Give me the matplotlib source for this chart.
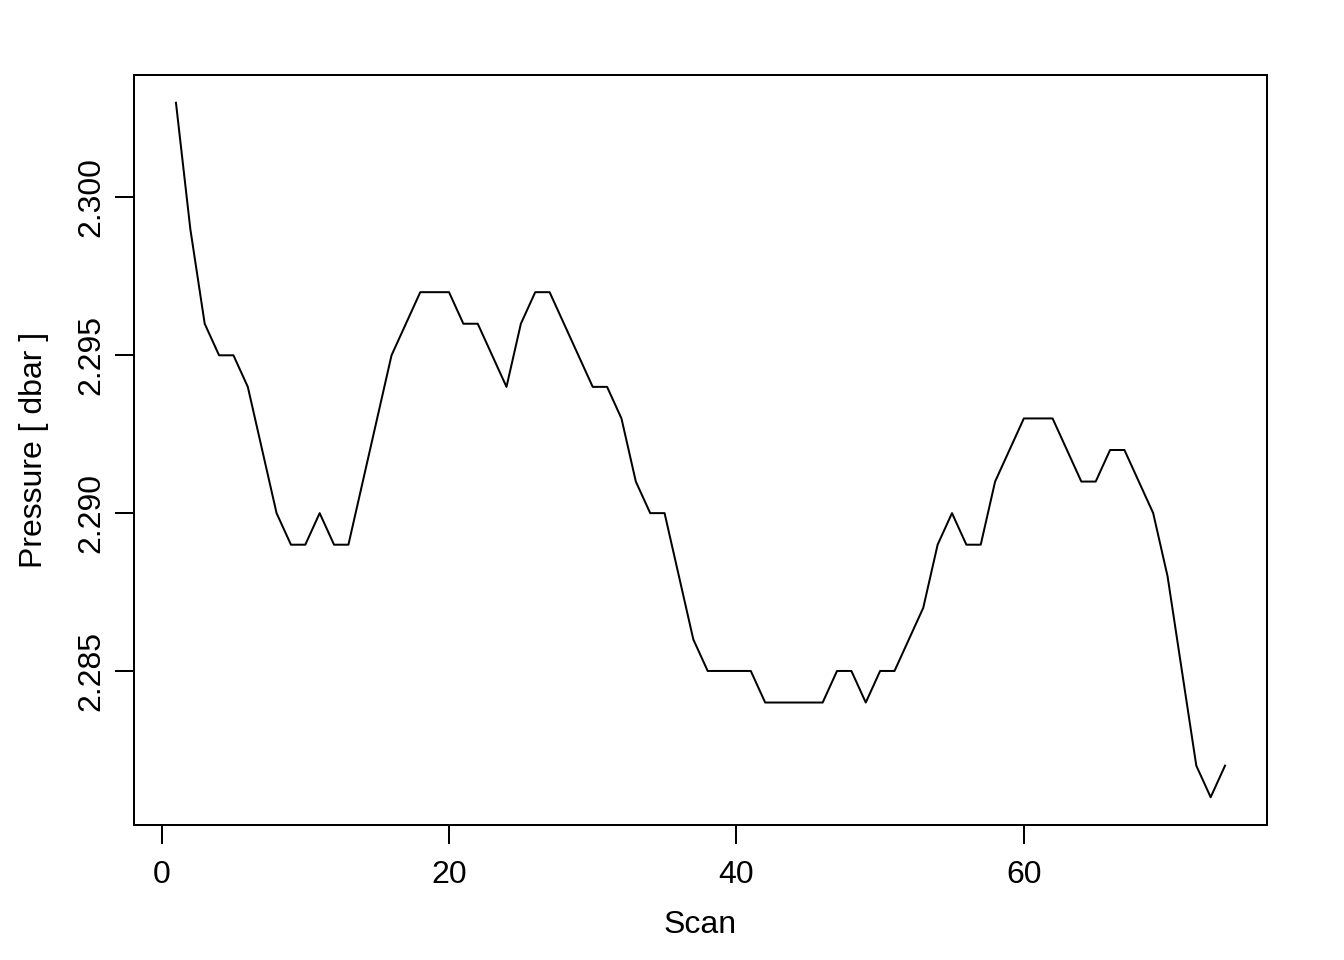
import numpy as np
import matplotlib
matplotlib.use("Agg")
import matplotlib.pyplot as plt

plt.rcParams['font.family'] = ['Liberation Sans', 'DejaVu Sans']

# pressure per scan
scan = np.arange(1, 75)
pressure = [
    2.303, 2.299, 2.296, 2.295, 2.295, 2.294, 2.292, 2.290, 2.289, 2.289,
    2.290, 2.289, 2.289, 2.291, 2.293, 2.295, 2.296, 2.297, 2.297, 2.297,
    2.296, 2.296, 2.295, 2.294, 2.296, 2.297, 2.297, 2.296, 2.295, 2.294,
    2.294, 2.293, 2.291, 2.290, 2.290, 2.288, 2.286, 2.285, 2.285, 2.285,
    2.285, 2.284, 2.284, 2.284, 2.284, 2.284, 2.285, 2.285, 2.284, 2.285,
    2.285, 2.286, 2.287, 2.289, 2.290, 2.289, 2.289, 2.291, 2.292, 2.293,
    2.293, 2.293, 2.292, 2.291, 2.291, 2.292, 2.292, 2.291, 2.290, 2.288,
    2.285, 2.282, 2.281, 2.282,
]
xticks = [0, 20, 40, 60]
yticks = [2.285, 2.290, 2.295, 2.300]

fig = plt.figure(figsize=(7, 5), dpi=192)
ax = fig.add_axes([134 / 1344, 1 - 825 / 960, (1267 - 134) / 1344, (825 - 75) / 960])
ax.plot(scan, pressure, color='black', linewidth=0.75)

# R-style 4% padding
xr = scan.max() - scan.min()
ax.set_xlim(scan.min() - 0.04 * xr, scan.max() + 0.04 * xr)
yr = max(pressure) - min(pressure)
ax.set_ylim(min(pressure) - 0.04 * yr, max(pressure) + 0.04 * yr)

ax.set_xticks(xticks)
ax.set_xticklabels([str(v) for v in xticks])
ax.set_yticks(yticks)
ax.set_yticklabels(["%.3f" % v for v in yticks], rotation=90, va='center')
ax.tick_params(axis='both', direction='out', length=7, width=0.75,
               labelsize=12, color='black')
ax.tick_params(axis='x', pad=6.3)
ax.tick_params(axis='y', pad=3.5)
for s in ax.spines.values():
    s.set_linewidth(0.75)

ax.set_xlabel("Scan", fontsize=12, labelpad=7.3)
ax.set_ylabel("Pressure [ dbar ]", fontsize=12, labelpad=10)

fig.savefig("out.png", dpi=192)
